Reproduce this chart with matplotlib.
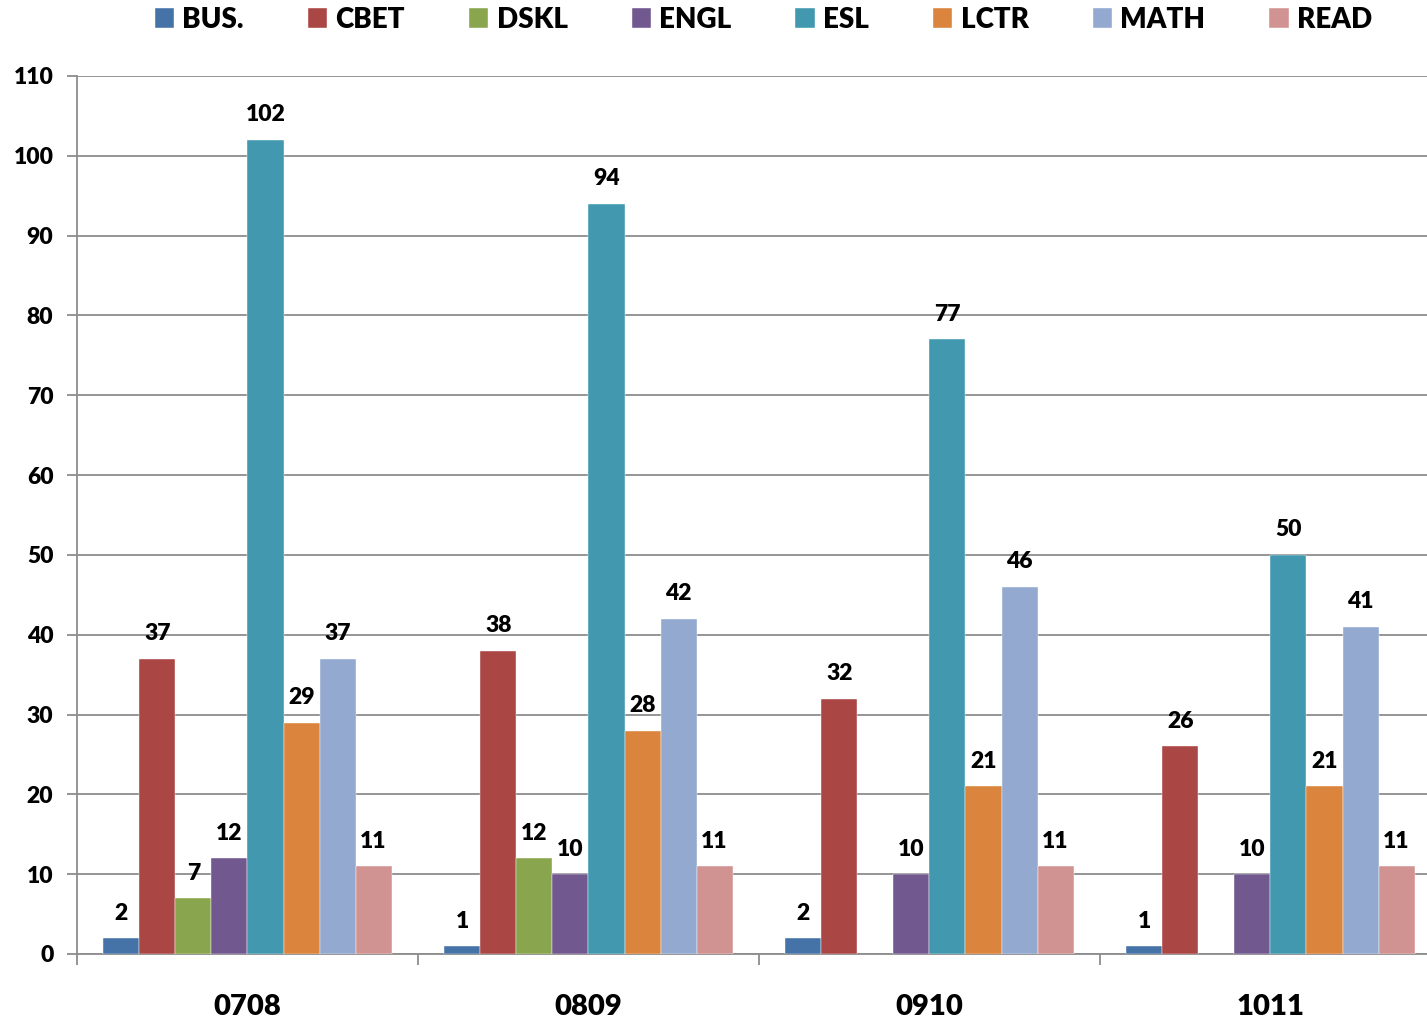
import numpy as np
import matplotlib
matplotlib.use("Agg")
import matplotlib.pyplot as plt

plt.rcParams['font.family'] = ['Lato', 'DejaVu Sans']
plt.rcParams['font.weight'] = 'heavy'

years = ['0708', '0809', '0910', '1011']
series = ['BUS.', 'CBET', 'DSKL', 'ENGL', 'ESL', 'LCTR', 'MATH', 'READ']
bus = [2, 1, 2, 1]
cbet = [37, 38, 32, 26]
dskl = [7, 12, np.nan, np.nan]
engl = [12, 10, 10, 10]
esl = [102, 94, 77, 50]
lctr = [29, 28, 21, 21]
math_ = [37, 42, 46, 41]
read = [11, 11, 11, 11]
colors = ['#4572A7', '#AA4643', '#89A54E', '#71588F',
          '#4198AF', '#DB843D', '#93A9CF', '#D19392']

values = [bus, cbet, dskl, engl, esl, lctr, math_, read]

fig = plt.figure(figsize=(14.27, 10.19), dpi=100)
ax = fig.add_axes([77/1427, 1 - 954/1019, 1 - 77/1427, (954 - 76)/1019])

x = np.arange(len(years))
w = 0.1056
grid_c = '#8c8c8c'

for i, (name, vals, c) in enumerate(zip(series, values, colors)):
    pos = x + (i - 3.5) * w
    ax.bar(pos, vals, width=w, color=c, label=name, zorder=3,
           edgecolor='white', linewidth=0.3)
    for p, v in zip(pos, vals):
        if np.isnan(v):
            continue
        ax.annotate(str(int(v)), (p, v), xytext=(0, 18), textcoords='offset points',
                    ha='center', va='center', fontsize=16.5, fontweight='heavy')

ax.set_ylim(0, 110)
ax.set_xlim(-0.5, 3.459)
ax.set_yticks(range(0, 111, 10))
ax.yaxis.grid(True, color=grid_c, linewidth=1.3, zorder=0)
ax.tick_params(axis='y', labelsize=16.5, length=7, width=1.3, color=grid_c, pad=10)

# group boundaries as major ticks, names as minor ticks
ax.set_xticks([-0.5, 0.5, 1.5, 2.5])
ax.set_xticklabels([])
ax.tick_params(axis='x', which='major', length=8, width=1.3, color=grid_c)
ax.set_xticks(x, minor=True)
ax.set_xticklabels(years, minor=True, fontsize=21, fontweight='heavy')
ax.tick_params(axis='x', which='minor', length=0, pad=29)

for s in ['top', 'right']:
    ax.spines[s].set_visible(False)
for s in ['left', 'bottom']:
    ax.spines[s].set_color(grid_c)
    ax.spines[s].set_linewidth(1.3)

fig.legend(loc='upper center', bbox_to_anchor=(0.535, 1.018), ncol=8, frameon=False,
           handlelength=0.7, handleheight=0.7, handletextpad=0.3,
           columnspacing=2.3, prop={'weight': 'heavy', 'size': 20})

fig.savefig('out.png', dpi=100)
